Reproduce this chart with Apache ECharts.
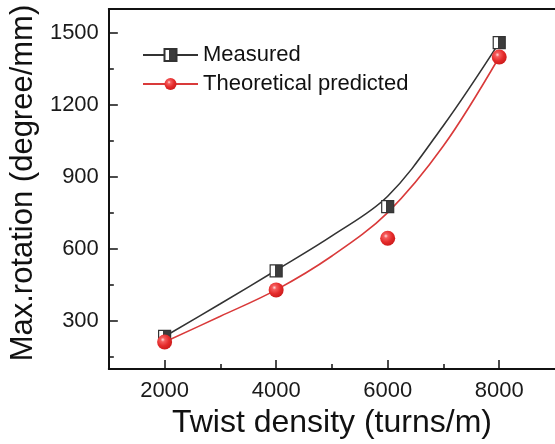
<!DOCTYPE html>
<html>
<head>
<meta charset="utf-8">
<script src="https://cdn.jsdelivr.net/npm/echarts@6/dist/echarts.min.js"></script>
<style>
html,body{margin:0;padding:0;background:#fff;}
#chart{width:555px;height:444px;}
</style>
</head>
<body>
<div id="chart"></div>
<script>
// ---- data ----
var twistDensity = [2000, 4000, 6000, 8000];
var measured = [236, 509, 777, 1460];
var theoretical = [213, 430, 645, 1400];
// fitted curves, values
var curveX = [2000, 3000, 4000, 5000, 6000, 7000, 8000];
var measuredCurve = [236, 372, 512, 655, 820, 1115, 1460];
var theoreticalCurve = [213, 320, 430, 571, 752, 1030, 1400];
var xTicks = [2000, 4000, 6000, 8000];
var xMinorTicks = [3000, 5000, 7000];
var yTicks = [300, 600, 900, 1200, 1500];
var yMinorTicks = [150, 450, 750, 1050, 1350];
var seriesNames = ['Measured', 'Theoretical predicted'];

function pairs(xs, ys) { return xs.map(function (x, i) { return [x, ys[i]]; }); }
function plain(v) { return String(v); }

var squareFill = {
  type: 'linear', x: 0, y: 0, x2: 1, y2: 0,
  colorStops: [
    {offset: 0, color: '#ffffff'}, {offset: 0.4, color: '#ffffff'},
    {offset: 0.4, color: '#3c3c3c'}, {offset: 1, color: '#3c3c3c'}
  ]
};
var sphereFill = {
  type: 'radial', x: 0.38, y: 0.35, r: 0.7,
  colorStops: [
    {offset: 0, color: '#ffdcdc'}, {offset: 0.2, color: '#f55c5c'},
    {offset: 0.6, color: '#e42a2a'}, {offset: 1, color: '#c91a1a'}
  ]
};
var FONT = 'Liberation Sans, Arial, sans-serif';
var xMin = 1000, xMax = 9000, yMin = 100, yMax = 1600;

var chart = echarts.init(document.getElementById('chart'), null, {renderer: 'canvas'});
chart.setOption({
  animation: false,
  backgroundColor: '#ffffff',
  grid: {left: 107, top: 9, width: 456, height: 365, containLabel: false},
  legend: {
    data: seriesNames,
    left: 137, top: 39, orient: 'vertical',
    itemWidth: 55, itemHeight: 15, itemGap: 7,
    textStyle: {fontFamily: FONT, fontSize: 22, color: '#111'}
  },
  xAxis: [{
    type: 'value', min: xMin, max: xMax, position: 'bottom',
    name: 'Twist density (turns/m)', nameLocation: 'middle', nameGap: 32,
    nameTextStyle: {fontFamily: FONT, fontSize: 32, color: '#111'},
    axisLine: {show: true, onZero: false, lineStyle: {color: '#111', width: 2}},
    axisTick: {show: true, inside: true, length: 9, customValues: xTicks, lineStyle: {color: '#111', width: 1.5}},
    axisLabel: {show: true, margin: 11, customValues: xTicks, formatter: plain, fontFamily: FONT, fontSize: 22, color: '#1a1a1a'},
    splitLine: {show: false}
  }, {
    type: 'value', min: xMin, max: xMax, position: 'bottom',
    axisLine: {show: false},
    axisTick: {show: true, inside: true, length: 5, customValues: xMinorTicks, lineStyle: {color: '#111', width: 1.5}},
    axisLabel: {show: false}, splitLine: {show: false}
  }, {
    type: 'value', min: xMin, max: xMax, position: 'top',
    axisLine: {show: true, onZero: false, lineStyle: {color: '#111', width: 2}},
    axisTick: {show: false}, axisLabel: {show: false}, splitLine: {show: false}
  }],
  yAxis: [{
    type: 'value', min: yMin, max: yMax, position: 'left',
    name: 'Max.rotation (degree/mm)', nameLocation: 'middle', nameGap: 63,
    nameTextStyle: {fontFamily: FONT, fontSize: 31, color: '#111', padding: [0, 0, 0, 12]},
    axisLine: {show: true, onZero: false, lineStyle: {color: '#111', width: 2}},
    axisTick: {show: true, inside: true, length: 9, customValues: yTicks, lineStyle: {color: '#111', width: 1.5}},
    axisLabel: {show: true, margin: 10, customValues: yTicks, formatter: plain, fontFamily: FONT, fontSize: 22, color: '#1a1a1a'},
    splitLine: {show: false}
  }, {
    type: 'value', min: yMin, max: yMax, position: 'left',
    axisLine: {show: false},
    axisTick: {show: true, inside: true, length: 5, customValues: yMinorTicks, lineStyle: {color: '#111', width: 1.5}},
    axisLabel: {show: false}, splitLine: {show: false}
  }],
  series: [{
    name: seriesNames[0], type: 'line', smooth: 0.35,
    symbol: 'rect', showSymbol: false,
    data: pairs(curveX, measuredCurve),
    lineStyle: {color: '#333333', width: 1.6},
    itemStyle: {color: squareFill, borderColor: '#333333', borderWidth: 1.2},
    z: 2
  }, {
    name: seriesNames[1], type: 'line', smooth: 0.35,
    symbol: 'circle', showSymbol: false,
    data: pairs(curveX, theoreticalCurve),
    lineStyle: {color: '#d93a3a', width: 1.6},
    itemStyle: {color: sphereFill, borderWidth: 0},
    z: 2
  }, {
    type: 'scatter', symbol: 'rect', symbolSize: 12,
    data: pairs(twistDensity, measured),
    itemStyle: {color: squareFill, borderColor: '#333333', borderWidth: 1.2, opacity: 1},
    z: 3
  }, {
    type: 'scatter', symbol: 'circle', symbolSize: 15,
    data: pairs(twistDensity, theoretical),
    itemStyle: {color: sphereFill, opacity: 1},
    z: 4
  }]
});
</script>
</body>
</html>
